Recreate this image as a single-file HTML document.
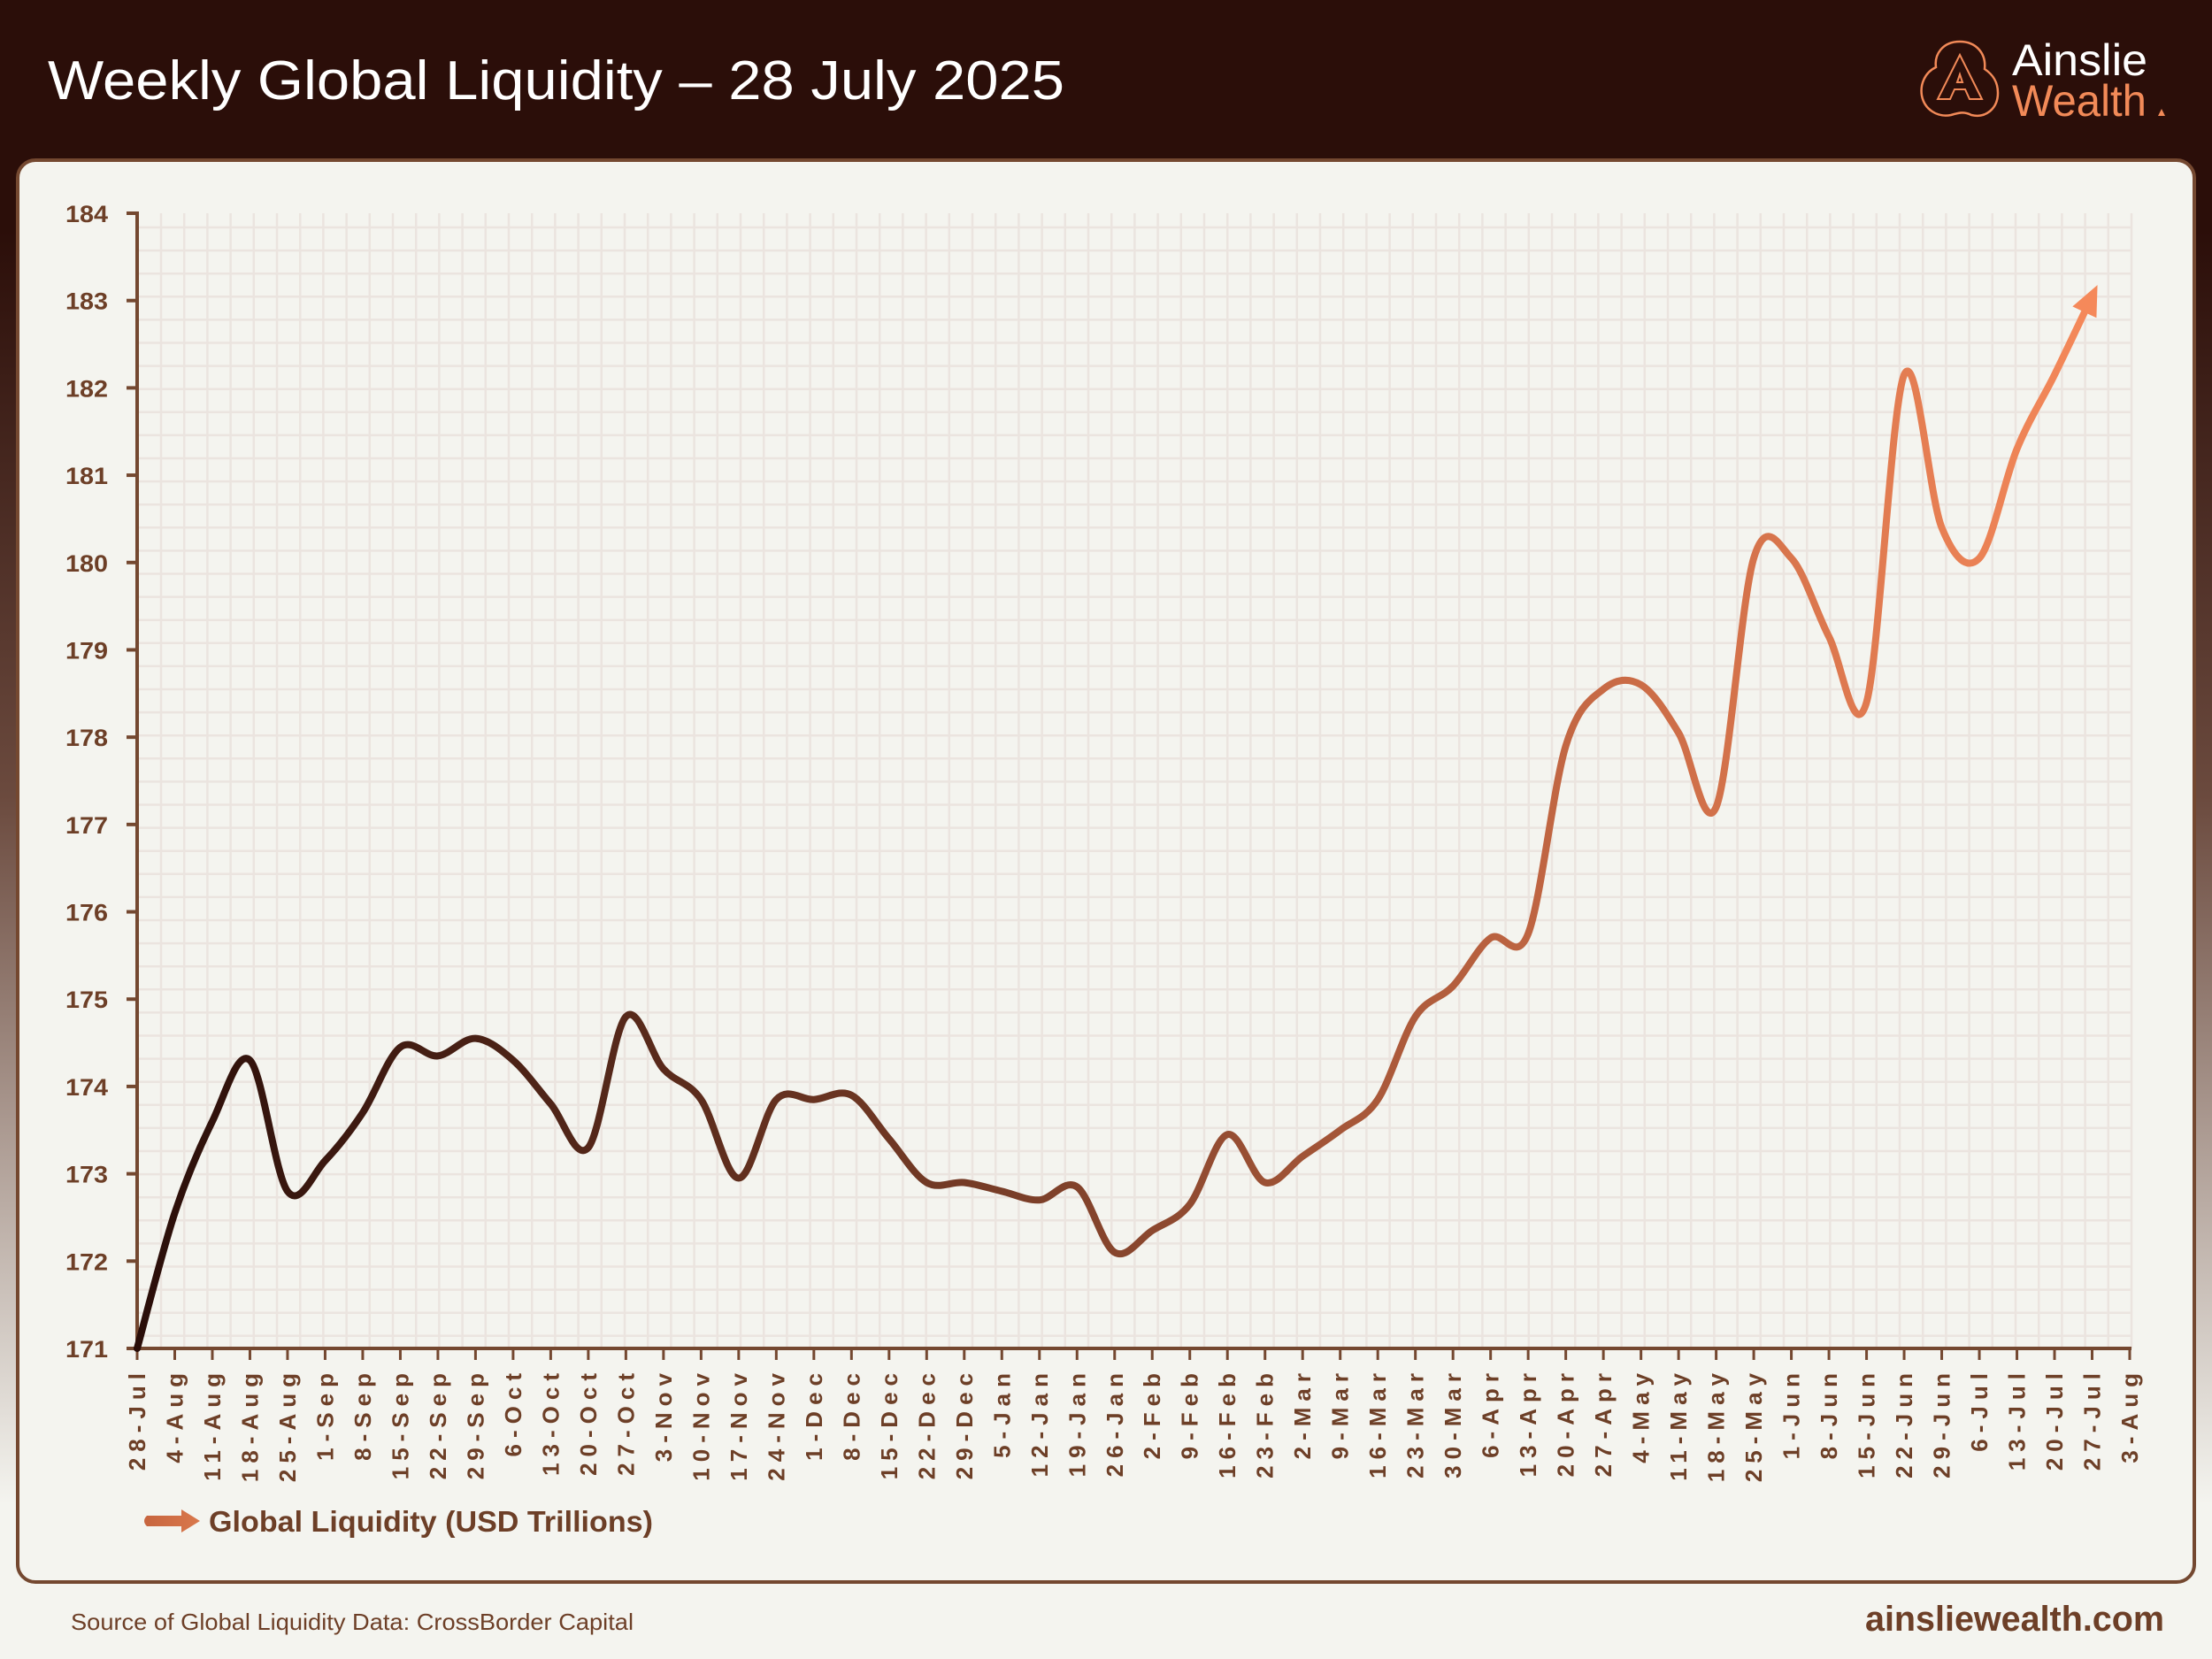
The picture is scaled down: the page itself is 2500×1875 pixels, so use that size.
<!DOCTYPE html>
<html><head><meta charset="utf-8"><style>
html,body{margin:0;padding:0;width:2500px;height:1875px;overflow:hidden}
body{background:linear-gradient(#2b0e09 0px,#2b0e09 260px,#6b4a3e 900px,#f4f4ef 1700px)}
</style></head><body>
<svg width="2500" height="1875" viewBox="0 0 2500 1875" xmlns="http://www.w3.org/2000/svg" style="position:absolute;left:0;top:0">
<defs>
<linearGradient id="lg" gradientUnits="userSpaceOnUse" x1="155" y1="0" x2="2370" y2="0">
<stop offset="0" stop-color="#2a0e09"/><stop offset="0.45" stop-color="#7a3e28"/><stop offset="0.75" stop-color="#c86a45"/><stop offset="1" stop-color="#f5895a"/>
</linearGradient>
<linearGradient id="leg" x1="0" y1="0" x2="1" y2="0"><stop offset="0" stop-color="#c7653f"/><stop offset="1" stop-color="#d9784c"/></linearGradient>
</defs>
<rect x="0" y="0" width="2500" height="178" fill="#2b0e09"/>
<text x="54" y="112" font-family="Liberation Sans, sans-serif" font-size="62" fill="#ffffff" textLength="1149" lengthAdjust="spacingAndGlyphs">Weekly Global Liquidity – 28 July 2025</text>
<g>
<path d="M2215 47 C2195 47 2186 62 2188 76 C2175 82 2170 96 2172 108 C2175 124 2190 133 2205 130 C2215 127 2220 126 2228 130 C2245 134 2258 122 2258 105 C2258 92 2252 84 2243 78 C2245 60 2233 47 2215 47 Z" fill="none" stroke="#f28a58" stroke-width="2.5"/>
<path d="M2215 62 L2240 112 L2226 112 L2221 101 L2209 101 L2204 112 L2190 112 Z M2215 84 L2212 93 L2218 93 Z" fill="none" stroke="#f28a58" stroke-width="2"/>
<text x="2274" y="85" font-family="Liberation Sans, sans-serif" font-size="50" fill="#ffffff" textLength="153" lengthAdjust="spacingAndGlyphs">Ainslie</text>
<text x="2274" y="131" font-family="Liberation Sans, sans-serif" font-size="50" fill="#f28a58" textLength="152" lengthAdjust="spacingAndGlyphs">Wealth</text>
<polygon points="2439,131 2447,131 2443,123" fill="#f28a58"/>
</g>
<rect x="20" y="181" width="2460" height="1607" rx="20" fill="#f4f4ef" stroke="#744830" stroke-width="4"/>
<g id="grid"></g>
<g id="axes"></g>
<g id="series"></g>
<g>
<path d="M166 1713 L205 1713 L205 1706 L226 1719 L205 1732 L205 1725 L166 1725 Q160 1719 166 1713 Z" fill="url(#leg)"/>
<text x="236" y="1731" font-family="Liberation Sans, sans-serif" font-weight="bold" font-size="33" fill="#6d3f27" textLength="502" lengthAdjust="spacingAndGlyphs">Global Liquidity (USD Trillions)</text>
</g>
<text x="80" y="1842" font-family="Liberation Sans, sans-serif" font-size="26" fill="#6d3f27" textLength="636" lengthAdjust="spacingAndGlyphs">Source of Global Liquidity Data: CrossBorder Capital</text>
<text x="2446" y="1843" text-anchor="end" font-family="Liberation Sans, sans-serif" font-weight="bold" font-size="40" fill="#6d3f27" textLength="338" lengthAdjust="spacingAndGlyphs">ainsliewealth.com</text>
</svg>
<script>
const xLabels=["28-Jul","4-Aug","11-Aug","18-Aug","25-Aug","1-Sep","8-Sep","15-Sep","22-Sep","29-Sep","6-Oct","13-Oct","20-Oct","27-Oct","3-Nov","10-Nov","17-Nov","24-Nov","1-Dec","8-Dec","15-Dec","22-Dec","29-Dec","5-Jan","12-Jan","19-Jan","26-Jan","2-Feb","9-Feb","16-Feb","23-Feb","2-Mar","9-Mar","16-Mar","23-Mar","30-Mar","6-Apr","13-Apr","20-Apr","27-Apr","4-May","11-May","18-May","25-May","1-Jun","8-Jun","15-Jun","22-Jun","29-Jun","6-Jul","13-Jul","20-Jul","27-Jul","3-Aug"];
const yTicks=[171,172,173,174,175,176,177,178,179,180,181,182,183,184];
const liquidity=[171.0,172.55,173.6,174.3,172.8,173.15,173.7,174.45,174.35,174.55,174.3,173.8,173.3,174.8,174.2,173.85,172.95,173.85,173.85,173.9,173.4,172.9,172.9,172.8,172.7,172.85,172.1,172.35,172.65,173.45,172.9,173.2,173.5,173.85,174.8,175.15,175.7,175.75,177.9,178.55,178.6,178.05,177.2,180.05,180.05,179.15,178.4,182.15,180.4,180.05,181.3,182.15,183.05];
const NS="http://www.w3.org/2000/svg";
const X0=155,X1=2407,Y0=1524,Y1=241,YMIN=171,YMAX=184;
const xs=i=>X0+i*(X1-X0)/(xLabels.length-1);
const ys=v=>Y0-(v-YMIN)*(Y0-Y1)/(YMAX-YMIN);
function mk(tag,attrs,parent){const e=document.createElementNS(NS,tag);for(const k in attrs)e.setAttribute(k,attrs[k]);parent.appendChild(e);return e;}
const grid=document.getElementById('grid'),axes=document.getElementById('axes'),series=document.getElementById('series');
for(let x=182;x<=2409;x+=26.2){const l=mk('line',{x1:x,y1:Y1,x2:x,y2:Y0,stroke:'#ebe4df','stroke-width':2.5},grid);}
for(let y=257;y<Y0-5;y+=26.1){const l=mk('line',{x1:X0,y1:y,x2:2409,y2:y,stroke:'#ebe4df','stroke-width':2.5},grid);}
let a=mk('line',{x1:X0,y1:Y1-2,x2:X0,y2:Y0+2,stroke:'#744830','stroke-width':4},axes);

a=mk('line',{x1:X0-2,y1:Y0,x2:X1+2,y2:Y0,stroke:'#744830','stroke-width':4},axes);

yTicks.forEach(v=>{const y=ys(v);
const t=mk('line',{x1:X0-12,y1:y,x2:X0,y2:y,stroke:'#744830','stroke-width':4},axes);

const tx=mk('text',{x:122,y:y+10,'text-anchor':'end','font-family':'Liberation Sans, sans-serif','font-weight':'bold','font-size':27,fill:'#6d3f27',textLength:48,lengthAdjust:'spacingAndGlyphs'},axes);tx.textContent=v;
});
xLabels.forEach((s,i)=>{const x=xs(i);
const t=mk('line',{x1:x,y1:Y0,x2:x,y2:Y0+13,stroke:'#744830','stroke-width':3},axes);

const tx=mk('text',{x:0,y:0,transform:`translate(${x+9},1545) rotate(-90)`,'text-anchor':'end','font-family':'Liberation Sans, sans-serif','font-weight':'bold','font-size':26,'letter-spacing':'7',fill:'#6d3f27'},axes);tx.textContent=s;
});
const pts=liquidity.map((v,i)=>[xs(i),ys(v)]);
let d=`M${pts[0][0]},${pts[0][1]}`;
for(let i=0;i<pts.length-1;i++){const p0=pts[Math.max(0,i-1)],p1=pts[i],p2=pts[i+1],p3=pts[Math.min(pts.length-1,i+2)];
d+=` C${p1[0]+(p2[0]-p0[0])/6},${p1[1]+(p2[1]-p0[1])/6} ${p2[0]-(p3[0]-p1[0])/6},${p2[1]-(p3[1]-p1[1])/6} ${p2[0]},${p2[1]}`;}
const line=mk('path',{d:d,fill:'none',stroke:'url(#lg)','stroke-width':8,'stroke-linejoin':'round','stroke-linecap':'round'},series);

const pl=pts[pts.length-1],pp=pts[pts.length-2];
const ang=Math.atan2(pl[1]-pp[1],pl[0]-pp[0]);
const tip=[pl[0]+14*Math.cos(ang),pl[1]+14*Math.sin(ang)];
const bx=tip[0]-34*Math.cos(ang),by=tip[1]-34*Math.sin(ang);
const nx=-Math.sin(ang)*15,ny=Math.cos(ang)*15;
const ah=mk('polygon',{points:`${tip[0]},${tip[1]} ${bx+nx},${by+ny} ${bx-nx},${by-ny}`,fill:'#f5895a'},series);

</script>
</body></html>
